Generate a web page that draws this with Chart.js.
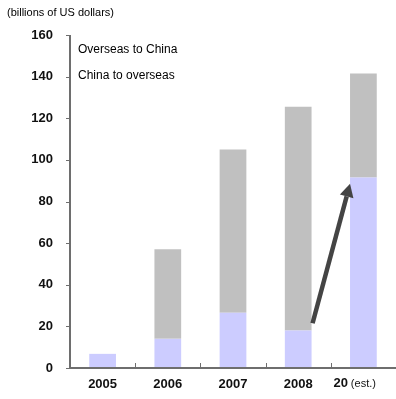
<!DOCTYPE html>
<html>
<head>
<meta charset="utf-8">
<script src="https://cdn.jsdelivr.net/npm/chart.js@4"></script>
<style>
  html, body { margin: 0; padding: 0; background: #fff; }
  #wrap { position: relative; width: 396px; height: 399px; }
</style>
</head>
<body>
<div id="wrap"><canvas id="flows"></canvas></div>
<script>
    'use strict';
    // data
    var years = ['2005', '2006', '2007', '2008', '20'];
    var chinaToOverseas = [6.8, 14, 26.5, 18, 91.5];
    var overseasToChina = [0, 43, 78.5, 107.5, 50];
    var seriesNames = ['Overseas to China', 'China to overseas'];
    var yTicks = [0, 20, 40, 60, 80, 100, 120, 140, 160];
    var unitLabel = '(billions of US dollars)';
    var arrowFrom = 21.5, arrowTo = 88.5;

    var FONT = '"Liberation Sans", Arial, sans-serif';
    var AXIS = '#6e6e6e';

    var decor = {
        id: 'decor',
        afterDraw: function (chart) {
            var c = chart.ctx, xs = chart.scales.x, ys = chart.scales.y;
            var area = chart.chartArea;
            c.save();
            // unit label
            c.fillStyle = '#000';
            c.font = '11px ' + FONT;
            c.textBaseline = 'middle';
            c.textAlign = 'left';
            c.fillText(unitLabel, 7, 13);
            // legend (text only)
            c.font = '12px ' + FONT;
            c.fillText(seriesNames[0], 78, 50);
            c.fillText(seriesNames[1], 78, 76);
            // axes
            c.strokeStyle = AXIS;
            c.lineWidth = 2;
            c.beginPath();
            c.moveTo(area.left, area.top);
            c.lineTo(area.left, area.bottom);
            c.lineTo(area.right, area.bottom);
            c.stroke();
            c.lineWidth = 1;
            c.beginPath();
            yTicks.forEach(function (t) {
                var y = Math.round(ys.getPixelForValue(t)) + 0.5;
                c.moveTo(area.left - 4, y);
                c.lineTo(area.left, y);
            });
            var w = xs.getPixelForValue(1) - xs.getPixelForValue(0);
            for (var i = 1; i < years.length; i++) {
                var x = Math.round(xs.getPixelForValue(i) - w / 2) + 0.5;
                c.moveTo(x, area.bottom);
                c.lineTo(x, area.bottom - 5);
            }
            c.stroke();
            // last category label with small "(est.)"
            var lx = xs.getPixelForValue(years.length - 1);
            var ly = area.bottom + 15;
            c.font = 'bold 13px ' + FONT;
            c.fillStyle = '#111';
            c.textAlign = 'left';
            var bw = c.measureText(years[years.length - 1]).width;
            c.fillText(years[years.length - 1], lx - 30, ly);
            c.font = '11px ' + FONT;
            c.fillText('(est.)', lx - 30 + bw + 3, ly + 1);
            // arrow
            var meta3 = chart.getDatasetMeta(0).data[3];
            var meta4 = chart.getDatasetMeta(0).data[4];
            var x1 = meta3.x + meta3.width / 2 + 1, y1 = ys.getPixelForValue(arrowFrom);
            var x2 = meta4.x - meta4.width / 2, y2 = ys.getPixelForValue(arrowTo);
            var ang = Math.atan2(y2 - y1, x2 - x1);
            var hl = 13;
            var bx = x2 - hl * Math.cos(ang), by = y2 - hl * Math.sin(ang);
            c.strokeStyle = '#444';
            c.fillStyle = '#444';
            c.lineWidth = 4.5;
            c.beginPath();
            c.moveTo(x1, y1);
            c.lineTo(bx, by);
            c.stroke();
            c.beginPath();
            c.moveTo(x2, y2);
            c.lineTo(bx + 7 * Math.sin(ang), by - 7 * Math.cos(ang));
            c.lineTo(bx - 7 * Math.sin(ang), by + 7 * Math.cos(ang));
            c.closePath();
            c.fill();
            c.restore();
        }
    };

    var flows = {
        type: 'bar',
        data: {
            labels: years,
            datasets: [{
                label: seriesNames[1],
                data: chinaToOverseas,
                backgroundColor: '#ccccff',
                barPercentage: 0.41,
                categoryPercentage: 1
            }, {
                label: seriesNames[0],
                data: overseasToChina,
                backgroundColor: '#c0c0c0',
                barPercentage: 0.41,
                categoryPercentage: 1
            }]
        },
        options: {
            responsive: true,
            maintainAspectRatio: false,
            animation: false,
            layout: { padding: { top: 35, right: 0, left: 0, bottom: 0 } },
            plugins: {
                legend: { display: false },
                tooltip: { enabled: false }
            },
            scales: {
                x: {
                    stacked: true,
                    border: { display: false },
                    grid: { display: false },
                    afterFit: function (s) { s.height = 31; },
                    ticks: {
                        color: '#111',
                        font: { family: FONT, size: 13, weight: 'bold' },
                        padding: 1,
                        callback: function (v, i) {
                            return i === years.length - 1 ? '' : years[i];
                        }
                    }
                },
                y: {
                    stacked: true,
                    min: 0,
                    max: 160,
                    afterBuildTicks: function (s) {
                        s.ticks = yTicks.map(function (v) { return { value: v }; });
                    },
                    afterFit: function (s) { s.width = 70; },
                    border: { display: false },
                    grid: { display: false },
                    ticks: {
                        color: '#111',
                        font: { family: FONT, size: 13, weight: 'bold' },
                        padding: 9
                    }
                }
            }
        },
        plugins: [decor]
    };

    window.onload = function () {
        var ctx = document.getElementById('flows').getContext('2d');
        window.myBar = new Chart(ctx, flows);
    };
</script>
</body>
</html>
